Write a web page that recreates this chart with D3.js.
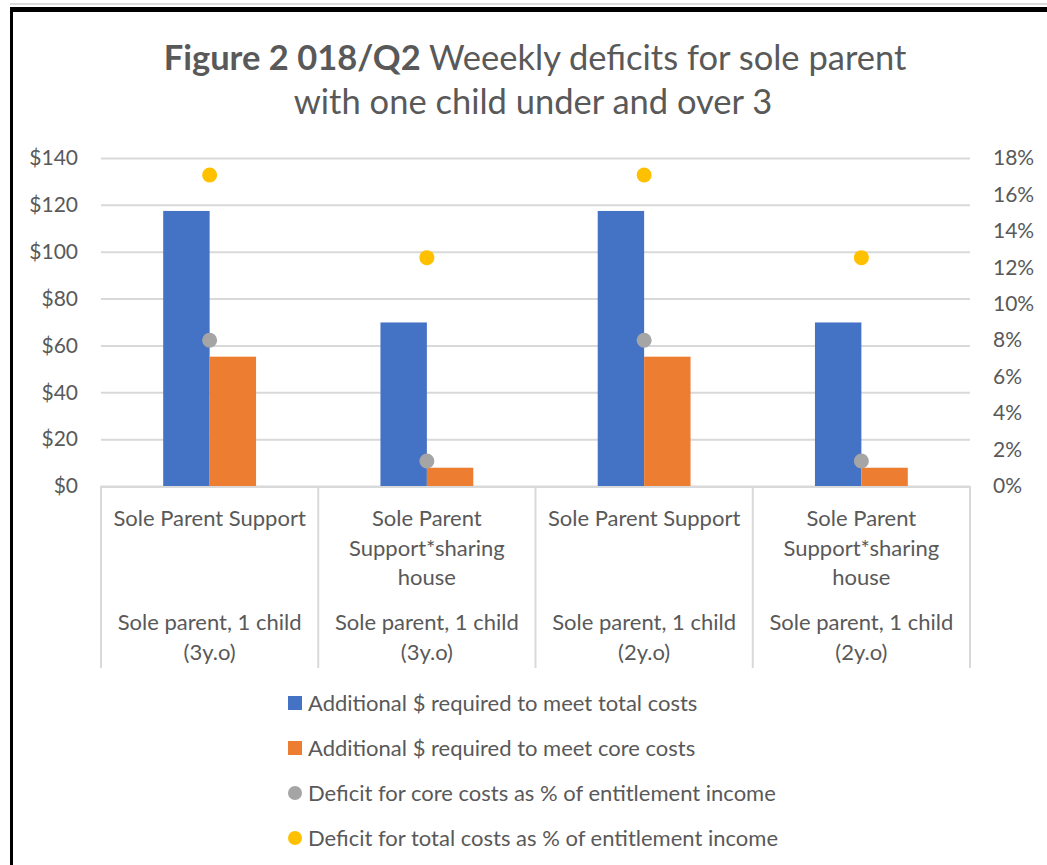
<!DOCTYPE html>
<html>
<head>
<meta charset="utf-8">
<script src="https://cdn.jsdelivr.net/npm/d3@7"></script>
<style>
  body { margin: 0; background: #fff; }
  svg { display: block; }
  text { font-family: Lato, "Open Sans", sans-serif; fill: #595959; }
</style>
</head>
<body>
<svg id="chart" width="1047" height="865"></svg>
<script>
// outer level of the category axis (household) and inner level (payment type)
const households = ['Sole parent, 1 child (3y.o)', 'Sole parent, 1 child (3y.o)', 'Sole parent, 1 child (2y.o)', 'Sole parent, 1 child (2y.o)']
const payments = ['Sole Parent Support', 'Sole Parent Support*sharing house', 'Sole Parent Support', 'Sole Parent Support*sharing house']

// weekly dollars (left axis)
const totalCostGap = [117.4, 69.8, 117.4, 69.8]
const coreCostGap = [55.2, 7.8, 55.2, 7.8]
// share of entitlement income (right axis)
const coreDeficitPct = [0.080, 0.0137, 0.080, 0.0137]
const totalDeficitPct = [0.1707, 0.1253, 0.1707, 0.1253]

const dollarTicks = [0, 20, 40, 60, 80, 100, 120, 140]
const pctTicks = [0, 0.02, 0.04, 0.06, 0.08, 0.1, 0.12, 0.14, 0.16, 0.18]

const seriesNames = [
  'Additional $ required to meet total costs',
  'Additional $ required to meet core costs',
  'Deficit for core costs as % of entitlement income',
  'Deficit for total costs as % of entitlement income'
]
const colors = ['#4472C4', '#ED7D31', '#A5A5A5', '#FFC000']

const plot = { left: 101, right: 970, top: 158, bottom: 486 }
const labelSize = 22
const svg = d3.select('#chart')

// frame around the chart
svg.append('rect').attr('x', 10).attr('y', 3).attr('width', 1037).attr('height', 2).attr('fill', '#dcdcdc')
svg.append('rect').attr('x', 10).attr('y', 7).attr('width', 1037).attr('height', 5).attr('fill', '#000')
svg.append('rect').attr('x', 10).attr('y', 7).attr('width', 3).attr('height', 858).attr('fill', '#000')

const x = d3.scaleBand().domain(d3.range(payments.length)).range([plot.left, plot.right])
const xSub = d3.scaleBand().domain([0, 1]).range([0, x.bandwidth()]).paddingOuter(1.34)
const yLeft = d3.scaleLinear().domain([0, 140]).range([plot.bottom, plot.top])
const yRight = d3.scaleLinear().domain([0, 0.18]).range([plot.bottom, plot.top])

// gridlines + left labels
const leftAxis = svg.append('g')
  .attr('transform', `translate(${plot.left},0)`)
  .call(d3.axisLeft(yLeft).tickValues(dollarTicks).tickFormat(d => '$' + d)
    .tickSize(-(plot.right - plot.left)).tickPadding(23))
leftAxis.select('.domain').remove()
leftAxis.selectAll('.tick line').attr('stroke', '#d9d9d9').attr('stroke-width', 2)
leftAxis.selectAll('.tick text').style('font-size', '21px').style('fill', '#595959').style('font-family', 'Lato')

const rightAxis = svg.append('g')
  .attr('transform', `translate(${plot.right},0)`)
  .call(d3.axisRight(yRight).tickValues(pctTicks).tickFormat(d3.format('.0%')).tickSize(0).tickPadding(23))
rightAxis.select('.domain').remove()
rightAxis.selectAll('.tick text').style('font-size', '21px').style('fill', '#595959').style('font-family', 'Lato')

// bars
const barSeries = [totalCostGap, coreCostGap]
barSeries.forEach((vals, s) => {
  svg.append('g').selectAll('rect')
    .data(vals)
    .enter()
    .append('rect')
    .attr('x', (_, i) => x(i) + xSub(s))
    .attr('y', d => yLeft(d))
    .attr('width', xSub.bandwidth())
    .attr('height', d => yLeft(0) - yLeft(d))
    .attr('fill', colors[s])
})

// category axis with two levels
const axisBottom = 668
svg.append('line')
  .attr('x1', plot.left).attr('x2', plot.right)
  .attr('y1', plot.bottom + 1).attr('y2', plot.bottom + 1)
  .attr('stroke', '#d9d9d9').attr('stroke-width', 2)
svg.append('g').selectAll('line')
  .data(d3.range(payments.length + 1))
  .enter()
  .append('line')
  .attr('x1', i => i < payments.length ? x(i) : plot.right)
  .attr('x2', i => i < payments.length ? x(i) : plot.right)
  .attr('y1', plot.bottom).attr('y2', axisBottom)
  .attr('stroke', '#d9d9d9').attr('stroke-width', 2)

function wrapLines(str, maxWidth, size) {
  const probe = svg.append('text').style('font-size', size + 'px')
  const words = str.split(' ')
  const lines = []
  let cur = ''
  words.forEach(w => {
    const test = cur ? cur + ' ' + w : w
    probe.text(test)
    if (probe.node().getComputedTextLength() > maxWidth && cur) {
      lines.push(cur)
      cur = w
    } else {
      cur = test
    }
  })
  lines.push(cur)
  probe.remove()
  return lines
}

function labelBlock(texts, firstY) {
  texts.forEach((t, i) => {
    const lines = wrapLines(t, x.bandwidth() - 14, labelSize)
    const el = svg.append('text')
      .attr('text-anchor', 'middle')
      .style('font-size', labelSize + 'px')
    lines.forEach((ln, k) => {
      el.append('tspan')
        .attr('x', x(i) + x.bandwidth() / 2)
        .attr('y', firstY + k * 29.5)
        .text(ln)
    })
  })
}
labelBlock(payments, 526)
labelBlock(households, 630)

// markers on the secondary axis
const dotSeries = [coreDeficitPct, totalDeficitPct]
dotSeries.forEach((vals, s) => {
  svg.append('g').selectAll('circle')
    .data(vals)
    .enter()
    .append('circle')
    .attr('cx', (_, i) => x(i) + x.bandwidth() / 2)
    .attr('cy', d => yRight(d))
    .attr('r', 7.5)
    .attr('fill', colors[s + 2])
})

// title
const title = svg.append('text')
  .attr('text-anchor', 'middle')
  .style('font-size', '34.5px')
const t1 = title.append('tspan').attr('x', 535).attr('y', 70)
t1.append('tspan').style('font-weight', 'bold').text('Figure 2 018/Q2')
t1.append('tspan').text(' Weeekly deficits for sole parent')
title.append('tspan').attr('x', 533).attr('y', 114).text('with one child under and over 3')

// legend
const legend = svg.append('g').attr('transform', 'translate(288,703)')
seriesNames.forEach((name, i) => {
  const row = legend.append('g').attr('transform', `translate(0,${i * 45})`)
  if (i < 2) {
    row.append('rect').attr('x', 0).attr('y', -7).attr('width', 14).attr('height', 14).attr('fill', colors[i])
  } else {
    row.append('circle').attr('cx', 7).attr('cy', 0).attr('r', 7).attr('fill', colors[i])
  }
  row.append('text').attr('x', 20).attr('y', 8).style('font-size', labelSize + 'px').text(name)
})
</script>
</body>
</html>
